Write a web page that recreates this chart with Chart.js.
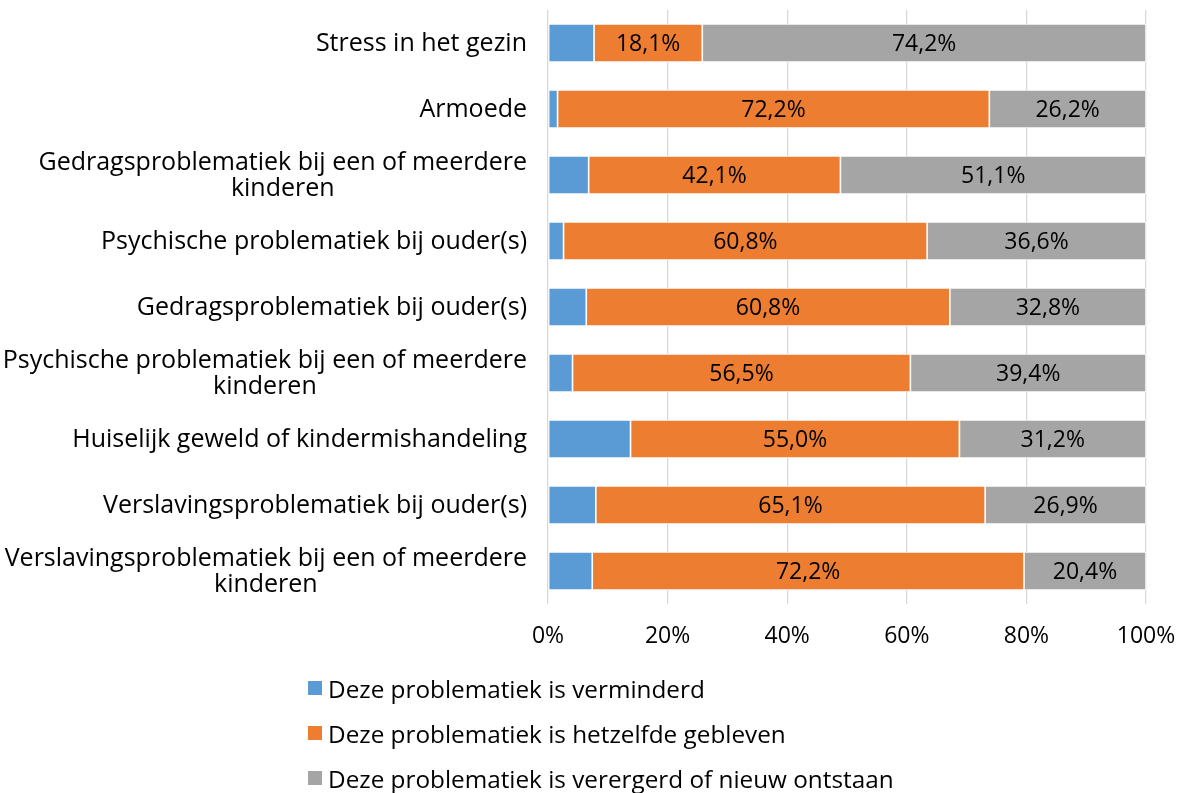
<!DOCTYPE html>
<html>
<head>
<meta charset="utf-8">
<script src="https://cdn.jsdelivr.net/npm/chart.js@4.4.1/dist/chart.umd.min.js"></script>
<style>
  html, body { margin: 0; padding: 0; background: #fff; }
  #wrap { position: relative; width: 1181px; height: 793px; }
  #legend { position: absolute; left: 308px; top: 670px; font-family: "Open Sans", sans-serif; font-size: 24.3px; color: #000; }
  .li { display: flex; align-items: center; height: 36px; margin-bottom: 9px; white-space: nowrap; }
  .sw { width: 14px; height: 14px; margin-right: 6px; flex: none; }
</style>
</head>
<body>
<div id="wrap">
  <canvas id="c" width="1181" height="793"></canvas>
  <div id="legend"></div>
</div>
<script>
const categories = [
  ["Stress in het gezin"],
  ["Armoede"],
  ["Gedragsproblematiek bij een of meerdere", "kinderen"],
  ["Psychische problematiek bij ouder(s)"],
  ["Gedragsproblematiek bij ouder(s)"],
  ["Psychische problematiek bij een of meerdere", "kinderen"],
  ["Huiselijk geweld of kindermishandeling"],
  ["Verslavingsproblematiek bij ouder(s)"],
  ["Verslavingsproblematiek bij een of meerdere", "kinderen"]
];
const seriesNames = [
  "Deze problematiek is verminderd",
  "Deze problematiek is hetzelfde gebleven",
  "Deze problematiek is verergerd of nieuw ontstaan"
];
const verminderd = [7.7, 1.6, 6.8, 2.6, 6.4, 4.1, 13.8, 8.0, 7.4];
const hetzelfde  = [18.1, 72.2, 42.1, 60.8, 60.8, 56.5, 55.0, 65.1, 72.2];
const verergerd  = [74.2, 26.2, 51.1, 36.6, 32.8, 39.4, 31.2, 26.9, 20.4];
const xTicks = [0, 20, 40, 60, 80, 100];
const colors = ["#5B9BD5", "#ED7D31", "#A5A5A5"];

const FONT = '"Open Sans", sans-serif';
const FS = 25;
const NFS = 23;

const fmt = v => v.toFixed(1).replace('.', ',') + '%';

const valueLabels = {
  id: 'valueLabels',
  afterDatasetsDraw(chart) {
    const ctx = chart.ctx;
    ctx.save();
    ctx.font = NFS + 'px ' + FONT;
    ctx.fillStyle = '#000';
    ctx.textAlign = 'center';
    ctx.textBaseline = 'middle';
    [1, 2].forEach(di => {
      const meta = chart.getDatasetMeta(di);
      meta.data.forEach((el, i) => {
        const v = chart.data.datasets[di].data[i];
        const cx = (el.x + el.base) / 2;
        ctx.fillText(fmt(v), cx, el.y + 1);
      });
    });
    ctx.restore();
  }
};

const catLabels = {
  id: 'catLabels',
  afterDraw(chart) {
    const ctx = chart.ctx;
    const ys = chart.scales.y;
    const right = chart.chartArea.left - 21;
    const lh = 26;
    ctx.save();
    ctx.font = FS + 'px ' + FONT;
    ctx.fillStyle = '#000';
    ctx.textAlign = 'center';
    ctx.textBaseline = 'middle';
    categories.forEach((lines, i) => {
      const y = ys.getPixelForValue(i) + 1;
      const widths = lines.map(t => ctx.measureText(t).width);
      const bw = Math.max(...widths);
      const cx = right - bw / 2;
      const y0 = y - (lines.length - 1) * lh / 2;
      lines.forEach((t, k) => ctx.fillText(t, cx, y0 + k * lh));
    });
    ctx.restore();
  }
};

const chart = new Chart(document.getElementById('c'), {
  type: 'bar',
  data: {
    labels: categories,
    datasets: [verminderd, hetzelfde, verergerd].map((d, i) => ({
      label: seriesNames[i],
      data: d,
      backgroundColor: colors[i],
      borderColor: '#ffffff',
      borderWidth: 0.8,
      borderSkipped: false,
      barPercentage: 0.58,
      categoryPercentage: 1.0
    }))
  },
  options: {
    indexAxis: 'y',
    responsive: false,
    animation: false,
    layout: { padding: { left: 0, right: 35, top: 10, bottom: 129 } },
    plugins: { legend: { display: false }, tooltip: { enabled: false } },
    scales: {
      x: {
        stacked: true, min: 0, max: 100,
        afterFit: s => { s.height = 60; s.paddingLeft = 0; s.paddingRight = 0; },
        afterBuildTicks: s => { s.ticks = xTicks.map(v => ({ value: v })); },
        ticks: { callback: v => v + '%', color: '#000', padding: 19, maxRotation: 0,
                 font: { family: FONT, size: NFS } },
        grid: { color: '#d9d9d9', lineWidth: 1.3, drawTicks: false },
        border: { display: false }
      },
      y: {
        stacked: true,
        afterFit: s => { s.width = 548; s.paddingTop = 0; s.paddingBottom = 0; },
        ticks: { display: false },
        grid: { display: false },
        border: { display: false }
      }
    }
  },
  plugins: [valueLabels, catLabels]
});

const lg = document.getElementById('legend');
chart.data.datasets.forEach(ds => {
  const row = document.createElement('div');
  row.className = 'li';
  const sw = document.createElement('span');
  sw.className = 'sw';
  sw.style.background = ds.backgroundColor;
  const tx = document.createElement('span');
  tx.textContent = ds.label;
  row.appendChild(sw); row.appendChild(tx);
  lg.appendChild(row);
});
</script>
</body>
</html>
